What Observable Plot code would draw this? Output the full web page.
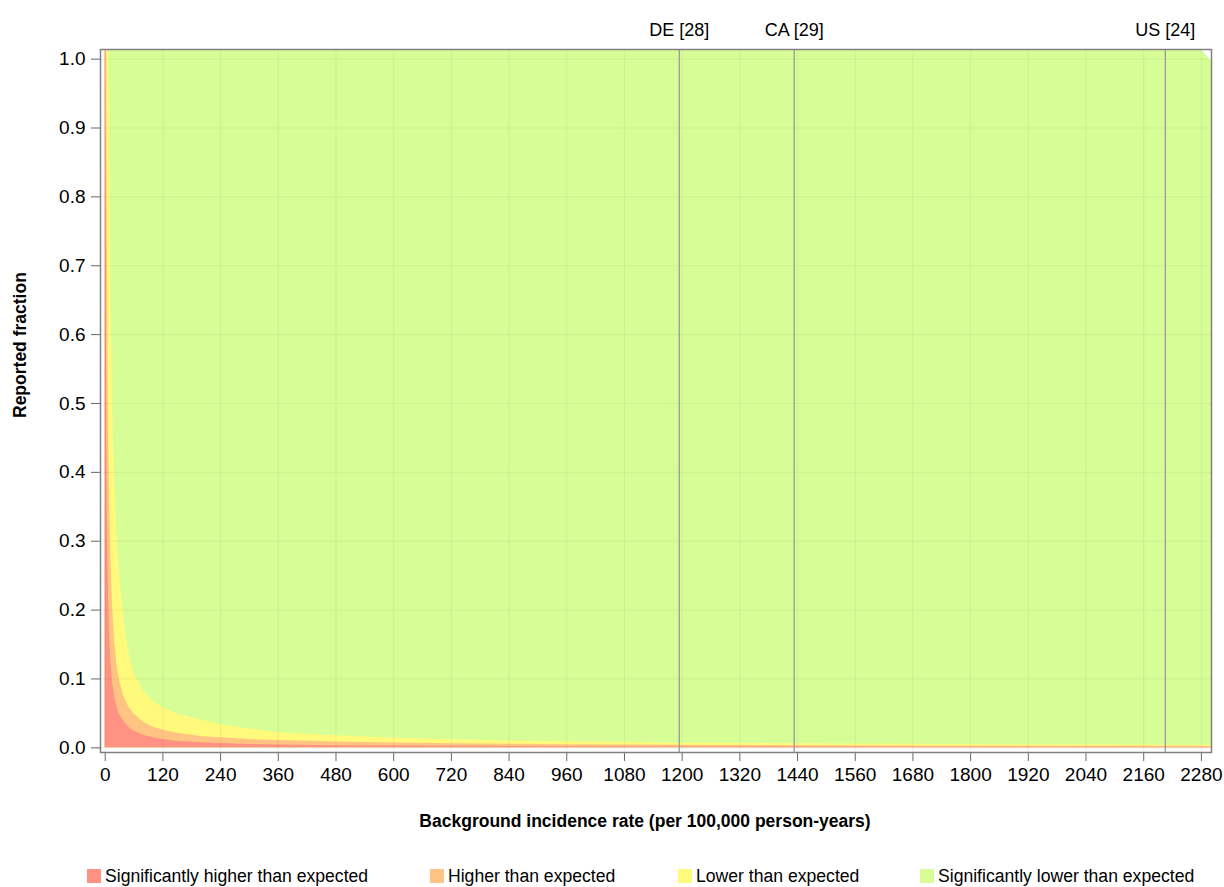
<!DOCTYPE html>
<html><head><meta charset="utf-8">
<script src="https://cdn.jsdelivr.net/npm/d3@7"></script>
<script src="https://cdn.jsdelivr.net/npm/@observablehq/plot@0.6"></script>
<style>
body{margin:0;background:#fff;font-family:"Liberation Sans",Arial,sans-serif;}
#wrap{position:relative;width:1224px;height:887px;overflow:hidden}
#wrap svg{font-family:"Liberation Sans",Arial,sans-serif;}
.leg{position:absolute;top:865px;font-size:17.6px;line-height:22px;display:flex;align-items:center;white-space:nowrap;color:#000}
.sw{width:14px;height:14px;margin-right:4px}
</style></head><body><div id="wrap"></div>
<script>
// Background incidence rate (per 100,000 person-years)
const rates   = [0, 1, 2, 3, 4, 5, 6, 7, 8, 10, 12, 15, 20, 25, 30, 40, 50, 60, 80, 100, 120, 150, 200, 240, 300, 360, 480, 600, 720, 840, 960, 1200, 1440, 1680, 1920, 2160, 2310];
// upper boundary of each band (reported fraction)
const sigHigh = [1.02, 1.02, 0.75, 0.5, 0.38, 0.31, 0.26, 0.22, 0.19, 0.15, 0.125, 0.097, 0.073, 0.058, 0.048, 0.037, 0.029, 0.024, 0.018, 0.0145, 0.012, 0.0097, 0.0072, 0.0061, 0.0049, 0.0041, 0.0031, 0.0025, 0.0021, 0.0018, 0.0016, 0.0013, 0.0011, 0.00092, 0.0008, 0.0007, 0.00066];
const high    = [1.02, 1.02, 1.02, 1.02, 0.82, 0.66, 0.55, 0.47, 0.41, 0.33, 0.27, 0.21, 0.15, 0.118, 0.097, 0.072, 0.058, 0.049, 0.037, 0.03, 0.026, 0.021, 0.0165, 0.0145, 0.012, 0.0105, 0.0084, 0.007, 0.006, 0.0052, 0.0046, 0.0037, 0.0031, 0.0027, 0.0024, 0.0021, 0.002];
const low     = [1.02, 1.02, 1.02, 1.02, 1.02, 1.02, 1.02, 1.02, 1.0, 0.78, 0.64, 0.5, 0.38, 0.3, 0.25, 0.178, 0.135, 0.108, 0.082, 0.067, 0.058, 0.049, 0.04, 0.034, 0.027, 0.022, 0.0175, 0.014, 0.0118, 0.01, 0.0088, 0.0071, 0.0059, 0.0051, 0.0045, 0.004, 0.0038];
const greenRates = [0, 2272, 2310];
const greenTop   = [1.02, 1.02, 0.99];

const countries    = ["DE [28]", "CA [29]", "US [24]"];
const countryRates = [1194, 1433, 2205];

const xTicks = [0, 120, 240, 360, 480, 600, 720, 840, 960, 1080, 1200, 1320, 1440, 1560, 1680, 1800, 1920, 2040, 2160, 2280];
const yTicks = [0, 0.1, 0.2, 0.3, 0.4, 0.5, 0.6, 0.7, 0.8, 0.9, 1.0];

const categories = ["Significantly higher than expected", "Higher than expected", "Lower than expected", "Significantly lower than expected"];
const colors     = ["#FF9282", "#FFC482", "#FFF97C", "#D7FE96"];

const xTitle = "Background incidence rate (per 100,000 person-years)";
const yTitle = "Reported fraction";

const band = (vals) => rates.map((r, i) => ({r, v: vals[i]}));
const green = greenRates.map((r, i) => ({r, v: greenTop[i]}));

const chart = Plot.plot({
  width: 1224,
  height: 855,
  marginLeft: 100,
  marginRight: 13,
  marginTop: 49,
  marginBottom: 103,
  style: {fontSize: "19px", background: "#fff", color: "#000"},
  x: {domain: [-9.8, 2301]},
  y: {domain: [-0.0068, 1.014]},
  marks: [
    Plot.areaY(green, {x: "r", y1: 0, y2: "v", fill: colors[3], clip: true}),
    Plot.areaY(band(low), {x: "r", y1: 0, y2: "v", fill: colors[2], clip: true}),
    Plot.areaY(band(high), {x: "r", y1: 0, y2: "v", fill: colors[1], clip: true}),
    Plot.areaY(band(sigHigh), {x: "r", y1: 0, y2: "v", fill: colors[0], clip: true}),
    Plot.gridX(xTicks, {stroke: "#000", strokeOpacity: 0.05, strokeWidth: 1.2}),
    Plot.gridY(yTicks, {stroke: "#000", strokeOpacity: 0.05, strokeWidth: 1.2}),
    Plot.ruleX(countryRates, {stroke: "#999", strokeWidth: 1.3}),
    Plot.text(countries, {x: (d, i) => countryRates[i], frameAnchor: "top", dy: -26, fontSize: 18, fill: "#000"}),
    Plot.axisX(xTicks, {tickSize: 9, tickPadding: 6, stroke: "#666", fill: "#000", fontSize: 19, label: null, tickFormat: d => String(d)}),
    Plot.axisY(yTicks, {tickSize: 9, tickPadding: 6, stroke: "#666", fill: "#000", fontSize: 19, label: null, tickFormat: d3.format(".1f")}),
    Plot.frame({stroke: "#808080", strokeWidth: 1.5}),
    Plot.text([xTitle], {frameAnchor: "bottom", dx: -11, dy: 74, fontWeight: "bold", fontSize: 17.5, fill: "#000"}),
    Plot.text([yTitle], {frameAnchor: "left", dx: -80, dy: 17, rotate: -90, fontWeight: "bold", fontSize: 17.5, fill: "#000"})
  ]
});
const wrap = document.getElementById("wrap");
wrap.appendChild(chart);

const legX = [87, 430, 678, 920];
categories.forEach((c, i) => {
  const d = document.createElement("div");
  d.className = "leg";
  d.style.left = legX[i] + "px";
  const s = document.createElement("div");
  s.className = "sw";
  s.style.background = colors[i];
  const t = document.createElement("span");
  t.textContent = c;
  d.appendChild(s); d.appendChild(t);
  wrap.appendChild(d);
});
</script>
</body></html>
